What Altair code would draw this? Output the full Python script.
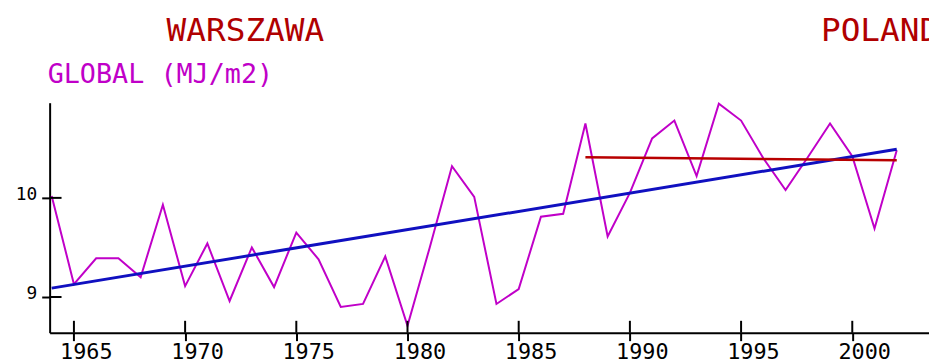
import altair as alt
import pandas as pd

# Magenta series: annual global radiation (MJ/m2), Warszawa
years = list(range(1964, 2003))
global_values = [10.02, 9.13, 9.39, 9.39, 9.20, 9.93, 9.11, 9.54, 8.96, 9.50,
                 9.10, 9.65, 9.38, 8.90, 8.93, 9.41, 8.71, 9.50, 10.32, 10.01,
                 8.93, 9.08, 9.81, 9.84, 10.75, 9.61, 10.05, 10.60, 10.78, 10.22,
                 10.95, 10.78, 10.40, 10.08, 10.41, 10.75, 10.42, 9.69, 10.48]

# Long-term linear trend (blue)
trend_years = [1964, 2002]
trend_values = [9.09, 10.49]

# Recent-period trend (red)
recent_years = [1988, 2002]
recent_values = [10.41, 10.38]

# Axis ticks
x_ticks = [1965, 1970, 1975, 1980, 1985, 1990, 1995, 2000]
y_ticks = [9, 10]

W, H = 887, 232
FONT = "DejaVu Sans Mono"

xs = alt.Scale(domain=[1963.908, 2003.45], nice=False, zero=False)
ys = alt.Scale(domain=[8.64, 10.96], nice=False, zero=False)

xaxis = alt.Axis(values=x_ticks, format="d", tickSize=8, tickColor="black", tickWidth=2,
                 domainColor="black", domainWidth=2, grid=False, title=None,
                 labelFont=FONT, labelFontSize=22, labelColor="black",
                 labelBaseline="top", labelPadding=1, labelOffset=12, labelAlign="center")
yaxis = alt.Axis(values=y_ticks, format="d", tickSize=8, tickColor="black", tickWidth=2,
                 domainColor="black", domainWidth=2, grid=False, title=None,
                 labelFont=FONT, labelFontSize=18, labelColor="black",
                 labelBaseline="alphabetic", labelOffset=2, labelPadding=5)

df = pd.DataFrame({"year": years, "value": global_values})
trend = pd.DataFrame({"year": trend_years, "value": trend_values})
recent = pd.DataFrame({"year": recent_years, "value": recent_values})
xt = pd.DataFrame({"year": x_ticks})
yt = pd.DataFrame({"value": y_ticks})

main = alt.Chart(df).mark_line(color="#c000c8", strokeWidth=2).encode(
    x=alt.X("year:Q", scale=xs, axis=xaxis),
    y=alt.Y("value:Q", scale=ys, axis=yaxis),
)
blue = alt.Chart(trend).mark_line(color="#1010c0", strokeWidth=3).encode(
    x=alt.X("year:Q", scale=xs), y=alt.Y("value:Q", scale=ys))
red = alt.Chart(recent).mark_line(color="#b80000", strokeWidth=2.5).encode(
    x=alt.X("year:Q", scale=xs), y=alt.Y("value:Q", scale=ys))

xin = alt.Chart(xt).mark_rule(color="black", strokeWidth=2).encode(
    x=alt.X("year:Q", scale=xs), y=alt.value(H), y2=alt.value(H - 12))
yin = alt.Chart(yt).mark_rule(color="black", strokeWidth=2).encode(
    y=alt.Y("value:Q", scale=ys), x=alt.value(0), x2=alt.value(12))

def label(txt, px, py, size, color):
    return alt.Chart(pd.DataFrame({"t": [txt]})).mark_text(
        font=FONT, fontSize=size, color=color, align="left", baseline="alphabetic"
    ).encode(x=alt.value(px), y=alt.value(py), text="t:N")

t1 = label("WARSZAWA", 118, -62, 33, "#b00000")
t2 = label("POLAND", 778, -62, 33, "#b00000")
t3 = label("GLOBAL (MJ/m2)", -2, -20, 27, "#c000c8")

chart = alt.layer(main, blue, red, xin, yin, t1, t2, t3).properties(
    width=W, height=H,
    background="white",
    autosize=alt.AutoSizeParams(type="none"),
    padding={"left": 42, "top": 94, "right": 0, "bottom": 26},
).configure_view(stroke="transparent", strokeWidth=0)

chart.save("out.html", embed_options={"renderer": "svg", "actions": False})
